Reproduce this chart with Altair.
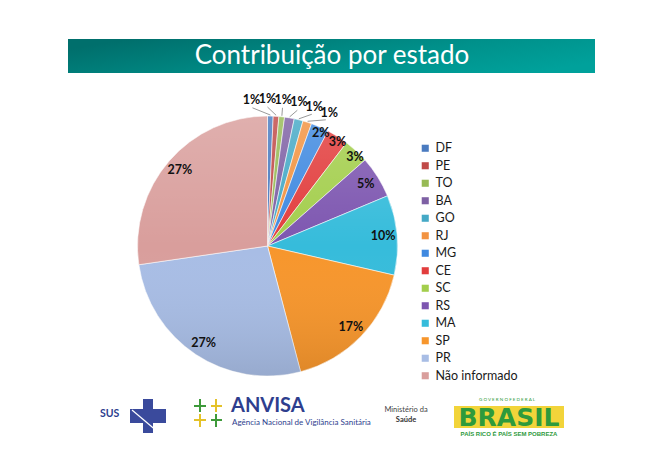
import math
import altair as alt
import pandas as pd

# ---------------- data ----------------
states = ["DF", "PE", "TO", "BA", "GO", "RJ", "MG", "CE", "SC", "RS",
          "MA", "SP", "PR", "Não informado"]
values = [0.7, 0.7, 0.7, 1.2, 1.1, 1.1, 2.2, 2.7, 3.1, 5.2, 9.9, 17.3, 26.8, 27.3]
colors = ["#4A7BC0", "#C04A48", "#97BA55", "#7E60A4", "#45A9C6", "#F29341",
          "#3F89E0", "#E23D3D", "#A3CE4C", "#7D56B0", "#36BCDB", "#F7962C",
          "#A8BDE5", "#D99E9C"]
title_text = "Contribuição por estado"

# ---------------- geometry / style ----------------
W, H = 634, 443
CX, CY, R = 259.5, 238.0, 130.0
FONT = "Lato"

idx = list(range(len(states)))
cum = 0.0
mids = []
for v in values:
    mids.append(cum + v / 2)
    cum += v
total = cum

small = [i for i, v in enumerate(values) if v < 1.5]
grp_center = sum(mids[i] for i in small) / len(small) * 3.6 + 0.5
spread = 6.2

lab_ang, lab_r = [], []
for i, v in enumerate(values):
    if v < 1.5:
        k = small.index(i)
        a = grp_center + (k - (len(small) - 1) / 2) * spread
        lab_ang.append((a / 3.6) % 100)
        lab_r.append(R + 17)
    elif v < 4:
        lab_ang.append(mids[i] + 0.4)
        lab_r.append(R - 5)
    else:
        lab_ang.append(mids[i])
        lab_r.append(R - 14)

df = pd.DataFrame({
    "idx": idx, "state": states, "value": values,
    "label": [f"{round(v):.0f}%" for v in values],
    "ang": lab_ang, "r": lab_r,
})

# leader lines for the outside labels
lines = []
for i in small:
    a0 = mids[i] / 100 * 2 * math.pi
    a1 = lab_ang[i] / 100 * 2 * math.pi
    lines.append({
        "x1": CX + (R + 1) * math.sin(a0), "y1": CY - (R + 1) * math.cos(a0),
        "x2": CX + (R + 9) * math.sin(a1), "y2": CY - (R + 9) * math.cos(a1),
    })
df_lines = pd.DataFrame(lines)

one = pd.DataFrame({"a": [0]})

# ---------------- title bar ----------------
title_bar = alt.Chart(one).mark_rect(
    color=alt.Gradient(
        gradient="linear",
        stops=[alt.GradientStop(color="#006F6C", offset=0),
               alt.GradientStop(color="#00918B", offset=0.6),
               alt.GradientStop(color="#00A19B", offset=1)],
        x1=0, x2=1, y1=0.3, y2=0.7)
).encode(x=alt.value(60), x2=alt.value(587), y=alt.value(31), y2=alt.value(65))

title = alt.Chart(one).mark_text(
    text=title_text, font=FONT, fontSize=26, color="white",
    align="center", baseline="middle"
).encode(x=alt.value(324), y=alt.value(48))

# ---------------- pie ----------------
pie = alt.Chart(df).mark_arc(
    outerRadius=R, stroke="white", strokeWidth=0.7, strokeOpacity=0.8
).encode(
    theta=alt.Theta("value:Q", stack=True, scale=alt.Scale(domain=[0, total])),
    color=alt.Color("state:N", sort=states,
                    scale=alt.Scale(domain=states, range=colors),
                    legend=alt.Legend(orient="none", legendX=411, legendY=134,
                                      title=None)),
    order=alt.Order("idx:Q"),
    x=alt.value(CX), y=alt.value(CY),
)

shade = alt.Chart(one).mark_arc(
    theta=0, theta2=2 * math.pi, outerRadius=R,
    fill=alt.Gradient(
        gradient="linear",
        stops=[alt.GradientStop(color="rgba(255,255,255,0.18)", offset=0),
               alt.GradientStop(color="rgba(255,255,255,0.0)", offset=0.5),
               alt.GradientStop(color="rgba(0,0,0,0.10)", offset=1)],
        x1=0, x2=0, y1=0, y2=1)
).encode(x=alt.value(CX), y=alt.value(CY))

leaders = alt.Chart(df_lines).mark_rule(color="#7F7F7F", strokeWidth=0.8).encode(
    x=alt.X("x1:Q", scale=None, axis=None),
    y=alt.Y("y1:Q", scale=None, axis=None),
    x2="x2:Q", y2="y2:Q",
)

labels = alt.Chart(df).mark_text(
    font=FONT, fontSize=12.5, fontWeight="bold", color="#111111",
    align="center", baseline="middle"
).encode(
    theta=alt.Theta("ang:Q", scale=alt.Scale(domain=[0, total])),
    radius=alt.Radius("r:Q", scale=None),
    text="label:N",
    x=alt.value(CX), y=alt.value(CY),
)

# ---------------- footer logos (approximated) ----------------
NAVY = "#2E3E8E"
GREEN = "#2E9A3C"


def txt(t, x, y, size, color, weight="normal", align="left", font=FONT):
    return alt.Chart(one).mark_text(
        text=t, font=font, fontSize=size, fontWeight=weight, color=color,
        align=align, baseline="middle"
    ).encode(x=alt.value(x), y=alt.value(y))


def box(x, x2, y, y2, color):
    return alt.Chart(one).mark_rect(color=color).encode(
        x=alt.value(x), x2=alt.value(x2), y=alt.value(y), y2=alt.value(y2))


def seg(x, y, x2, y2, color, w):
    return alt.Chart(one).mark_rule(color=color, strokeWidth=w).encode(
        x=alt.value(x), y=alt.value(y), x2=alt.value(x2), y2=alt.value(y2))


footer = [
    txt("SUS", 92, 406, 10.5, NAVY, "bold"),
    box(135, 145, 391, 425, "#3A4A9C"),
    box(122, 158, 401, 415, "#3A4A9C"),
    seg(124, 402, 150, 424, "white", 1.2),
    # ANVISA symbol
    seg(186, 398, 198, 398, "#3E9A3A", 2),
    seg(192, 391, 192, 404, "#3E9A3A", 2),
    seg(203, 398, 214, 398, "#E4C22A", 2),
    seg(208, 391, 208, 404, "#E4C22A", 2),
    seg(186, 412, 198, 412, "#E4C22A", 2),
    seg(192, 406, 192, 419, "#E4C22A", 2),
    seg(203, 412, 214, 412, "#3E9A3A", 2),
    seg(208, 406, 208, 419, "#3E9A3A", 2),
    txt("ANVISA", 223, 398, 20, NAVY, "bold"),
    txt("Agência Nacional de Vigilância Sanitária", 224, 415, 8.0, NAVY),
    txt("Ministério da", 398, 402, 7.5, "#444444", align="center"),
    txt("Saúde", 398, 412, 7.5, "#333333", "bold", align="center"),
    txt("G  O  V  E  R  N  O     F  E  D  E  R  A  L", 499, 392, 4.5, GREEN,
        align="center"),
    box(446, 556, 398, 420, "#F2D43A"),
    txt("BRASIL", 501, 409.5, 25, GREEN, "bold", align="center",
        font="DejaVu Sans"),
    txt("PAÍS RICO É PAÍS SEM POBREZA", 501, 425.5, 6.0, GREEN, "bold",
        align="center", font="Liberation Sans"),
]

chart = alt.layer(
    title_bar, title, pie, shade, leaders, labels, *footer
).resolve_scale(
    theta="independent"
).properties(
    width=W, height=H, padding=0, autosize=alt.AutoSizeParams(type="none")
).configure_view(
    stroke=None
).configure_legend(
    labelFont=FONT, labelFontSize=12.5, labelColor="#1A1A1A",
    symbolType="square", symbolSize=50, symbolStrokeWidth=0,
    rowPadding=4.5, labelOffset=4, padding=0
)

chart.save("out.html", embed_options={"renderer": "svg", "actions": False})
